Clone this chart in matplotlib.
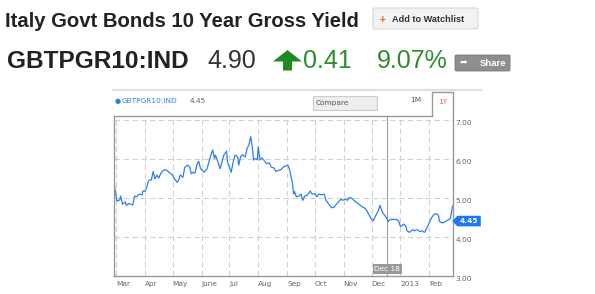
import matplotlib
matplotlib.use("Agg")
import matplotlib.pyplot as plt
import matplotlib.transforms as mtransforms
from matplotlib.patches import Polygon, FancyBboxPatch
from matplotlib.lines import Line2D
import pandas as pd

# Header values
title = "Italy Govt Bonds 10 Year Gross Yield"
ticker = "GBTPGR10:IND"
last_price = "4.90"
change = "0.41"
pct_change = "9.07%"
chart_last = 4.45
marker_date = "2012-12-18"

# Yield series
dates = [
    "2012-02-28", "2012-03-02", "2012-03-05", "2012-03-06", "2012-03-08", "2012-03-11",
    "2012-03-12", "2012-03-15", "2012-03-19", "2012-03-21", "2012-03-23", "2012-03-26",
    "2012-03-29", "2012-03-30", "2012-04-01", "2012-04-03", "2012-04-05", "2012-04-06",
    "2012-04-08", "2012-04-10", "2012-04-12", "2012-04-14", "2012-04-16", "2012-04-18",
    "2012-04-21", "2012-04-24", "2012-04-27", "2012-05-01", "2012-05-03", "2012-05-06",
    "2012-05-08", "2012-05-09", "2012-05-12", "2012-05-14", "2012-05-17", "2012-05-19",
    "2012-05-21", "2012-05-23", "2012-05-25", "2012-05-27", "2012-05-29", "2012-05-31",
    "2012-06-04", "2012-06-07", "2012-06-11", "2012-06-13", "2012-06-15", "2012-06-16",
    "2012-06-18", "2012-06-21", "2012-06-23", "2012-06-25", "2012-06-28", "2012-06-29",
    "2012-07-01", "2012-07-03", "2012-07-05", "2012-07-07", "2012-07-10", "2012-07-11",
    "2012-07-13", "2012-07-15", "2012-07-18", "2012-07-20", "2012-07-22", "2012-07-24",
    "2012-07-26", "2012-07-27", "2012-07-29", "2012-07-31", "2012-08-01", "2012-08-03",
    "2012-08-05", "2012-08-07", "2012-08-10", "2012-08-13", "2012-08-15", "2012-08-18",
    "2012-08-20", "2012-08-23", "2012-08-25", "2012-08-28", "2012-08-30", "2012-09-02",
    "2012-09-04", "2012-09-07", "2012-09-08", "2012-09-09", "2012-09-11", "2012-09-14",
    "2012-09-16", "2012-09-18", "2012-09-20", "2012-09-23", "2012-09-26", "2012-09-28",
    "2012-10-01", "2012-10-03", "2012-10-05", "2012-10-08", "2012-10-11", "2012-10-13",
    "2012-10-16", "2012-10-19", "2012-10-22", "2012-10-24", "2012-10-27", "2012-10-29",
    "2012-10-31", "2012-11-03", "2012-11-05", "2012-11-07", "2012-11-10", "2012-11-12",
    "2012-11-15", "2012-11-17", "2012-11-20", "2012-11-23", "2012-11-25", "2012-11-28",
    "2012-11-30", "2012-12-01", "2012-12-03", "2012-12-05", "2012-12-08", "2012-12-10",
    "2012-12-13", "2012-12-15", "2012-12-17", "2012-12-19", "2012-12-21", "2012-12-24",
    "2012-12-28", "2012-12-30", "2013-01-01", "2013-01-03", "2013-01-05", "2013-01-07",
    "2013-01-08", "2013-01-11", "2013-01-14", "2013-01-16", "2013-01-19", "2013-01-22",
    "2013-01-24", "2013-01-27", "2013-01-29", "2013-02-01", "2013-02-03", "2013-02-06",
    "2013-02-09", "2013-02-11", "2013-02-12", "2013-02-15", "2013-02-17", "2013-02-20",
    "2013-02-23", "2013-02-24", "2013-02-26",
]
yields = [
    5.35, 4.91, 4.94, 5.04, 4.83, 4.89,
    4.80, 4.85, 4.81, 5.04, 5.02, 5.09,
    5.07, 5.17, 5.16, 5.26, 5.43, 5.45,
    5.45, 5.67, 5.48, 5.58, 5.50, 5.61,
    5.70, 5.71, 5.65, 5.57, 5.48, 5.39,
    5.48, 5.58, 5.52, 5.78, 5.83, 5.80,
    5.61, 5.65, 5.63, 5.84, 5.93, 5.74,
    5.65, 5.74, 6.09, 6.22, 6.00, 6.09,
    5.96, 5.74, 5.91, 6.09, 6.19, 5.91,
    5.78, 5.65, 5.91, 6.09, 6.04, 5.83,
    6.04, 6.10, 6.04, 6.26, 6.35, 6.56,
    6.22, 5.96, 6.00, 5.97, 6.30, 5.96,
    6.02, 5.96, 5.87, 5.89, 5.78, 5.76,
    5.67, 5.70, 5.71, 5.78, 5.81, 5.83,
    5.70, 5.35, 5.09, 5.16, 5.02, 5.04,
    5.09, 4.93, 5.04, 5.06, 5.17, 5.09,
    5.10, 5.02, 5.09, 5.07, 5.09, 4.93,
    4.83, 4.74, 4.76, 4.83, 4.90, 4.96,
    4.93, 4.97, 4.93, 5.00, 4.98, 4.93,
    4.87, 4.84, 4.78, 4.74, 4.70, 4.57,
    4.48, 4.44, 4.41, 4.52, 4.65, 4.80,
    4.61, 4.55, 4.48, 4.39, 4.44, 4.44,
    4.44, 4.41, 4.26, 4.29, 4.32, 4.26,
    4.15, 4.11, 4.18, 4.15, 4.18, 4.13,
    4.15, 4.11, 4.20, 4.35, 4.46, 4.57,
    4.59, 4.54, 4.39, 4.35, 4.37, 4.41,
    4.45, 4.48, 4.78,
]

month_starts = pd.date_range("2012-03-01", "2013-02-01", freq="MS")
month_labels = ["Mar", "Apr", "May", "June", "Jul", "Aug", "Sep", "Oct", "Nov", "Dec", "2013", "Feb"]
y_ticks = [3, 4, 5, 6, 7]

W, H = 595, 294
DARK = "#222222"
GREEN = "#2e8b2e"
BLUE = "#2f7ff0"
GRAY = "#999999"


def fx(x):
    return x / W


def fy(y):
    return 1 - y / H


fig = plt.figure(figsize=(W / 100, H / 100), dpi=100)
fig.patch.set_facecolor("white")

# ---- header ----
fig.text(fx(5), fy(26.7), title, family="Liberation Sans", weight="bold",
         fontsize=14.6, color=DARK, va="baseline")
btn = FancyBboxPatch((fx(373), fy(29)), fx(105), 21 / H,
                     boxstyle="round,pad=0,rounding_size=0.004",
                     transform=fig.transFigure, fc="#f2f2f2", ec="#d8d8d8", lw=0.8)
fig.add_artist(btn)
fig.text(fx(380), fy(19.5), "+", family="Liberation Sans", weight="bold",
         fontsize=7, color="#f26522", va="center")
fig.text(fx(392), fy(19.5), "Add to Watchlist", family="Liberation Sans", weight="bold",
         fontsize=6.6, color="#333333", va="center")

fig.text(fx(7), fy(68.3), ticker, family="Liberation Sans", weight="bold",
         fontsize=17.6, color=DARK, va="baseline")
fig.text(fx(207), fy(68.3), last_price, family="Liberation Sans",
         fontsize=18, color="#333333", va="baseline")
arrow_px = [(287.5, 50), (302, 61.5), (292, 61.5), (292, 70.5),
            (283, 70.5), (283, 61.5), (273, 61.5)]
fig.add_artist(Polygon([(fx(x), fy(y)) for x, y in arrow_px], closed=True,
                       transform=fig.transFigure, fc="#1f8a1f", ec="none"))
fig.text(fx(303), fy(68.3), change, family="Liberation Sans",
         fontsize=18, color=GREEN, va="baseline")
fig.text(fx(377), fy(68.3), pct_change, family="Liberation Sans",
         fontsize=18, color=GREEN, va="baseline")
share = FancyBboxPatch((fx(455), fy(71)), fx(55), 16 / H,
                       boxstyle="round,pad=0,rounding_size=0.003",
                       transform=fig.transFigure, fc="#8e8e8e", ec="#7a7a7a", lw=0.6)
fig.add_artist(share)
fig.text(fx(459), fy(63.5), "➦", family="DejaVu Sans", fontsize=6.5,
         color="white", va="center")
fig.text(fx(480), fy(63.5), "Share", family="Liberation Sans", weight="bold",
         fontsize=6.8, color="white", va="center")

# separator above chart
fig.add_artist(Line2D([fx(113), fx(481)], [fy(90), fy(90)], color="#e0e0e0", lw=1.6))

# legend row
fig.text(fx(115), fy(101), "●", family="DejaVu Sans", fontsize=5, color=BLUE, va="center")
fig.text(fx(122), fy(101), ticker, family="DejaVu Sans", fontsize=5.3, color=BLUE, va="center")
fig.text(fx(190), fy(101), f"{chart_last:.2f}", family="DejaVu Sans", fontsize=5.3,
         color="#666666", va="center")
cmp_box = FancyBboxPatch((fx(313), fy(110)), fx(64), 14 / H,
                         boxstyle="square,pad=0", transform=fig.transFigure,
                         fc="#eeeeee", ec="#cccccc", lw=0.8)
fig.add_artist(cmp_box)
fig.text(fx(316), fy(103), "Compare", family="DejaVu Sans", fontsize=5.3,
         color="#555555", va="center")
fig.text(fx(415.5), fy(100), "1M", family="DejaVu Sans", fontsize=5.3,
         color="#555555", va="center", ha="center")
fig.text(fx(442.5), fy(102), "1Y", family="DejaVu Sans", fontsize=5.3,
         color="#f0604a", va="center", ha="center")

# ---- chart ----
ax = fig.add_axes([fx(114), fy(275.7), (453.3 - 114) / W, (275.7 - 116) / H])
ax.set_facecolor("white")
x = pd.to_datetime(dates)
ax.plot(x, yields, color=BLUE, lw=0.9, zorder=3)

ax.set_xlim(pd.Timestamp("2012-02-27 20:00"), pd.Timestamp("2013-02-26 22:00"))
ax.set_ylim(3.0, 7.09)

ax.set_xticks(month_starts)
ax.set_xticklabels(month_labels, ha="left")
ax.set_yticks(y_ticks)
ax.set_yticklabels([f"{v:.2f}" for v in y_ticks])
ax.yaxis.tick_right()
ax.tick_params(axis="both", length=0, labelsize=5.3, labelcolor="#666666")
ax.tick_params(axis="x", pad=3.5)
ax.tick_params(axis="y", pad=1.5)
shift = mtransforms.ScaledTranslation(0, -2.5 / 100, fig.dpi_scale_trans)
for lab in ax.get_yticklabels():
    lab.set_transform(lab.get_transform() + shift)

ax.grid(True, color="#d2d2d2", linestyle=(0, (5, 3)), lw=0.8, zorder=0)
for side in ["left", "right", "bottom"]:
    ax.spines[side].set_color(GRAY)
    ax.spines[side].set_linewidth(1.0)
    ax.spines[side].set_zorder(4)
ax.spines["top"].set_visible(False)

# top border + 1Y tab
fig.add_artist(Line2D([fx(114), fx(432)], [fy(116), fy(116)], color=GRAY, lw=1.0))
fig.add_artist(Line2D([fx(432), fx(432), fx(453.3), fx(453.3)],
                      [fy(116), fy(92), fy(92), fy(116)], color=GRAY, lw=1.0))

# Dec 18 marker
md = pd.Timestamp(marker_date)
ax.axvline(md, color="#a0a0a0", lw=0.8, zorder=2)
ax.text(md, 0.04, "Dec 18", transform=ax.get_xaxis_transform(), ha="center", va="center",
        fontsize=5.3, color="white", family="DejaVu Sans", zorder=5,
        bbox=dict(boxstyle="square,pad=0.25", fc="#9a9a9a", ec="none"))

# last value tag on right
fig.canvas.draw()
x0, y0 = ax.transAxes.transform((1.0, 0))[0], ax.transData.transform((0, chart_last))[1] - 2.0
tag = [(x0 - 1, y0), (x0 + 4, y0 + 5.3), (x0 + 27.5, y0 + 5.3),
       (x0 + 27.5, y0 - 5.3), (x0 + 4, y0 - 5.3)]
fig.add_artist(Polygon(tag, closed=True, transform=mtransforms.IdentityTransform(),
                       fc="#1f78f0", ec="none"))
fig.text((x0 + 16) / W, y0 / H, f"{chart_last:.2f}", family="DejaVu Sans", weight="bold",
         fontsize=5.3, color="white", ha="center", va="center")

fig.savefig("out.png", dpi=100, facecolor="white")
